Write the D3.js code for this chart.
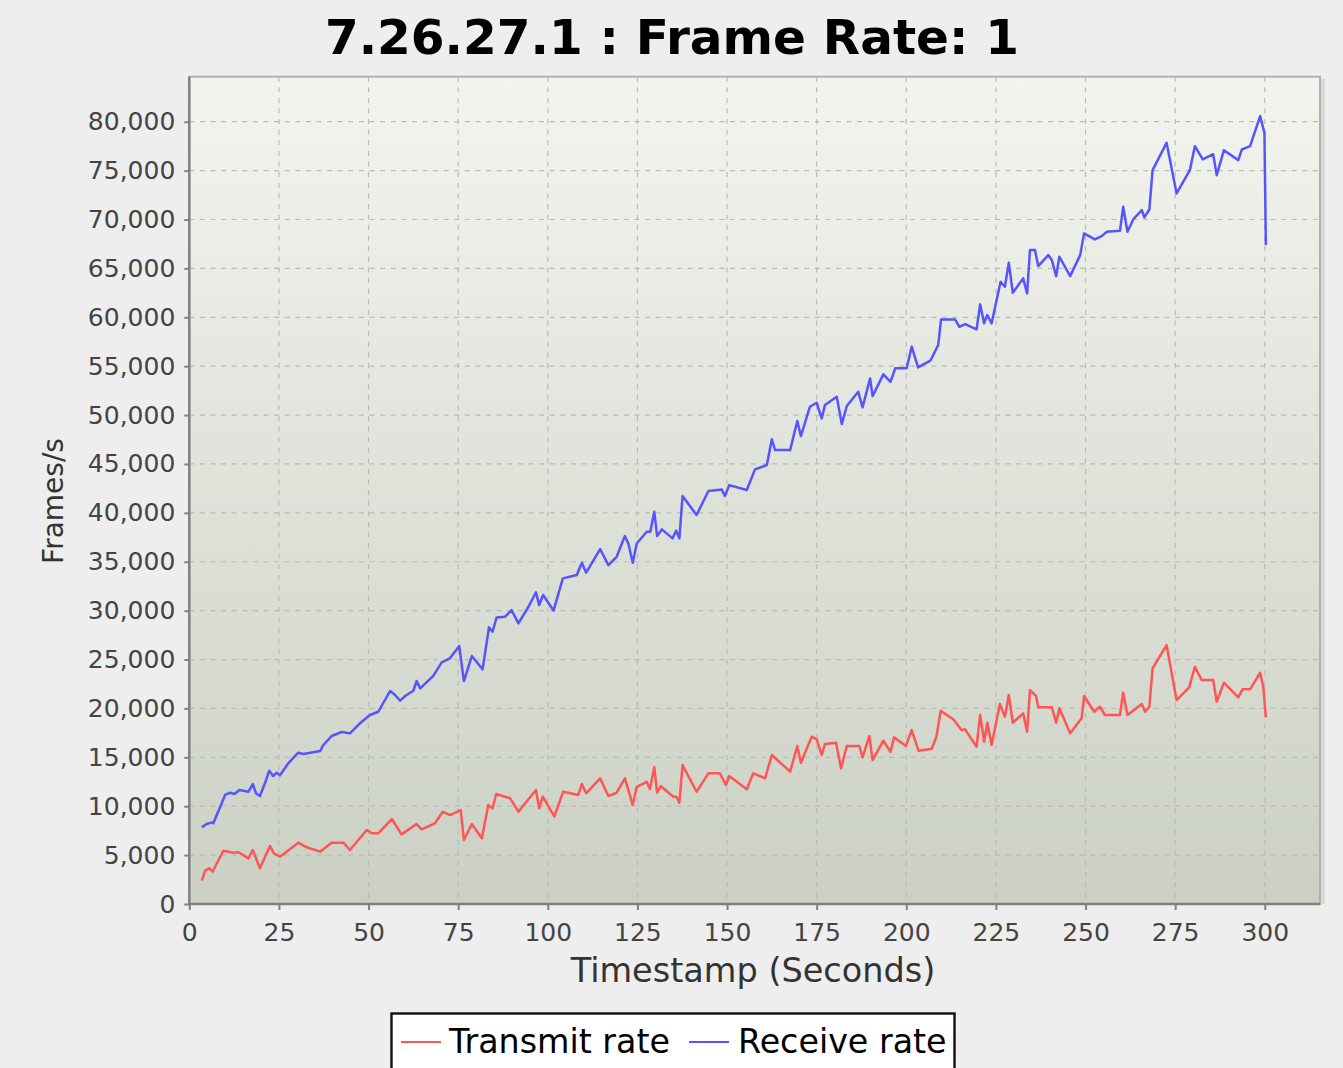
<!DOCTYPE html>
<html>
<head>
<meta charset="utf-8">
<script src="https://cdn.jsdelivr.net/npm/d3@7"></script>
<style>
  html, body { margin: 0; padding: 0; background: #eeeeee; }
  svg { display: block; }
</style>
</head>
<body>
<svg id="chart" width="1343" height="1068"></svg>
<script>
// ---- chart data ----
const chartTitle = "7.26.27.1 : Frame Rate: 1";
const xAxisTitle = "Timestamp (Seconds)";
const yAxisTitle = "Frames/s";
const xTickValues = [0, 25, 50, 75, 100, 125, 150, 175, 200, 225, 250, 275, 300];
const yTickValues = [0, 5000, 10000, 15000, 20000, 25000, 30000, 35000, 40000,
                     45000, 50000, 55000, 60000, 65000, 70000, 75000, 80000];
const seriesNames = ["Transmit rate", "Receive rate"];

const transmitSeconds = [3.5, 4.4, 5.6, 6.5, 9.5, 12.3, 13.7, 16.5, 17.7, 19.7, 22.5, 23.6, 25.3, 30.4, 32.7,
  36.5, 39.7, 43.0, 44.8, 49.5, 50.9, 52.7, 56.5, 59.2, 63.4, 64.8, 68.5, 70.7, 72.7, 75.7, 76.6, 78.8,
  81.6, 83.4, 84.6, 85.6, 89.5, 91.8, 96.7, 97.6, 98.6, 101.8, 104.3, 108.5, 109.5, 110.7, 114.6, 116.9,
  119.2, 121.5, 123.7, 124.8, 127.6, 128.5, 129.7, 130.5, 131.5, 135.0, 135.9, 136.7, 137.6, 141.5, 144.8,
  148.0, 149.7, 150.6, 155.5, 157.3, 160.6, 162.5, 167.6, 169.6, 170.6, 173.6, 175.0, 176.4, 177.3, 180.4,
  181.8, 183.4, 186.9, 187.8, 189.7, 190.6, 193.6, 195.6, 196.6, 199.9, 201.5, 203.4, 207.1, 208.4, 209.6,
  213.1, 215.4, 216.4, 219.6, 220.6, 221.7, 222.6, 223.8, 226.1, 227.5, 228.6, 229.7, 232.6, 233.7, 234.5,
  236.2, 236.8, 240.6, 241.8, 242.7, 245.7, 248.9, 249.6, 252.4, 254.0, 255.4, 259.6, 260.5, 261.7, 265.7,
  266.6, 267.8, 268.7, 272.6, 275.4, 278.9, 280.5, 282.4, 285.6, 286.6, 288.6, 292.6, 293.8, 295.9, 298.7,
  299.6, 300.3];
const transmitRate = [2390, 3410, 3650, 3300, 5450, 5250, 5290, 4670, 5520, 3650, 5930, 5180, 4840, 6270, 5800,
  5350, 6270, 6270, 5520, 7570, 7230, 7230, 8690, 7120, 8180, 7640, 8250, 9440, 9100, 9610, 6540, 8180,
  6720, 10120, 9780, 11250, 10810, 9440, 11660, 9780, 10970, 8950, 11480, 11150, 12270, 11320, 12850, 11040,
  11380, 12850, 10120, 11990, 12500, 11730, 13980, 11380, 12070, 10970, 10970, 10360, 14210, 11480, 13360,
  13360, 12170, 13090, 11730, 13360, 12850, 15240, 13530, 16160, 14450, 17110, 16840, 15240, 16360, 16490,
  13870, 16160, 16160, 15000, 17180, 14720, 16700, 15570, 17040, 16160, 17790, 15680, 15870, 17110, 19750,
  18890, 17790, 17860, 16080, 19330, 16600, 18540, 16260, 20450, 19150, 21370, 18540, 19500, 17620, 21880,
  21270, 20110, 20110, 18540, 20010, 17450, 18990, 21270, 19660, 20170, 19330, 19330, 21610, 19330, 20450,
  19660, 20170, 24100, 26480, 20860, 22160, 24260, 22900, 22900, 20690, 22630, 21130, 21950, 21950, 23650,
  22160, 19090];

const receiveSeconds = [3.5, 4.8, 6.4, 6.7, 10.0, 11.4, 12.6, 14.0, 16.5, 17.7, 18.6, 19.7, 21.1, 22.3, 23.4,
  24.4, 25.3, 27.6, 30.4, 31.8, 36.5, 37.4, 39.7, 42.5, 44.8, 47.6, 50.4, 52.7, 56.0, 57.4, 58.8, 60.2,
  62.5, 63.4, 64.4, 68.0, 70.4, 72.7, 75.3, 76.6, 78.8, 81.8, 83.6, 84.6, 85.7, 88.1, 89.9, 91.8, 94.6,
  96.7, 97.6, 98.7, 101.6, 104.2, 108.1, 109.5, 110.7, 114.6, 116.9, 119.2, 121.5, 122.5, 123.7, 124.8,
  127.6, 128.6, 129.7, 130.5, 131.8, 134.8, 135.8, 136.7, 137.6, 141.5, 144.8, 148.5, 149.4, 150.6, 155.5,
  157.8, 161.1, 162.5, 163.4, 167.6, 169.6, 170.6, 173.1, 175.0, 176.4, 177.3, 180.6, 182.0, 183.4, 186.6,
  187.8, 189.9, 190.6, 193.6, 195.6, 196.9, 200.1, 201.5, 203.3, 206.8, 208.9, 209.7, 213.6, 214.8, 216.4,
  219.6, 220.6, 221.7, 222.6, 223.8, 226.3, 227.5, 228.6, 229.7, 232.6, 233.7, 234.5, 235.9, 236.8, 239.6,
  240.6, 241.8, 242.7, 245.7, 248.5, 249.6, 252.6, 254.5, 255.9, 259.6, 260.5, 261.7, 263.3, 265.7, 266.4,
  267.8, 268.7, 272.6, 275.4, 279.1, 280.5, 282.7, 285.6, 286.6, 288.6, 292.6, 293.6, 295.9, 298.7, 299.9,
  300.3];
const receiveRate = [7840, 8180, 8350, 8250, 11150, 11380, 11250, 11660, 11480, 12270, 11320, 11040, 12340, 13630, 13090,
  13430, 13160, 14390, 15470, 15340, 15640, 16260, 17180, 17590, 17450, 18480, 19330, 19660, 21780, 21370, 20790, 21270,
  21810, 22800, 22050, 23310, 24710, 25120, 26380, 22800, 25360, 24000, 28300, 27840, 29300, 29380, 30060, 28700, 30400,
  31870, 30570, 31600, 30000, 33300, 33640, 34900, 33880, 36300, 34660, 35510, 37630, 36810, 34900, 36870,
  38070, 38070, 40110, 37630, 38310, 37390, 38170, 37390, 41720, 39780, 42230, 42400, 41720, 42840, 42330,
  44450, 44890, 47520, 46420, 46420, 49390, 47850, 50850, 51260, 49660, 51020, 51870, 49080, 50920, 52380,
  50790, 53750, 51940, 54160, 53400, 54780, 54780, 56990, 54870, 55600, 57160, 59780, 59780, 59030, 59310,
  58760, 61320, 59380, 60230, 59380, 63630, 63120, 65580, 62510, 63980, 62440, 66870, 66870, 65240, 66360,
  65850, 64210, 66190, 64210, 66360, 68580, 67960, 68300, 68740, 68840, 71300, 68740, 70010, 70960, 70210,
  71020, 75050, 77840, 72670, 75050, 77500, 76140, 76680, 74530, 77090, 76070, 77160, 77500, 80570, 78860,
  67380];

// ---- layout ----
const W = 1343, H = 1068;
const plot = { left: 189.3, right: 1320, top: 76.7, bottom: 904 };
const colors = { transmit: "#ff5555", receive: "#5555ff" };
const FONT = "'DejaVu Sans', sans-serif";

const svg = d3.select("#chart");

svg.append("rect").attr("width", W).attr("height", H).attr("fill", "#eeeeee");

const defs = svg.append("defs");
const grad = defs.append("linearGradient")
  .attr("id", "plotBg").attr("x1", 0).attr("y1", 0).attr("x2", 0).attr("y2", 1);
grad.append("stop").attr("offset", "0%").attr("stop-color", "#f3f4ef");
grad.append("stop").attr("offset", "100%").attr("stop-color", "#cbd0c4");

// scales
const x = d3.scaleLinear().domain([0, 315.4]).range([plot.left, plot.right]);
const y = d3.scaleLinear().domain([0, 84604]).range([plot.bottom, plot.top]);

// plot background with a soft shadow on the right edge
svg.append("rect")
  .attr("x", plot.right).attr("y", plot.top + 2)
  .attr("width", 5).attr("height", plot.bottom - plot.top - 2)
  .attr("fill", "#d8d8d8");
svg.append("rect")
  .attr("x", plot.left).attr("y", plot.top)
  .attr("width", plot.right - plot.left).attr("height", plot.bottom - plot.top)
  .attr("fill", "url(#plotBg)")
  .attr("stroke", "#b0b0b0").attr("stroke-width", 2);

// grid lines
const grid = svg.append("g").attr("class", "grid");
grid.selectAll("line.v").data(xTickValues.filter(d => d > 0)).join("line")
  .attr("class", "v")
  .attr("x1", d => x(d)).attr("x2", d => x(d))
  .attr("y1", plot.top).attr("y2", plot.bottom)
  .attr("stroke", "#b9bcb5").attr("stroke-width", 1.2)
  .attr("stroke-dasharray", "5,5.6");
grid.selectAll("line.h").data(yTickValues.filter(d => d > 0)).join("line")
  .attr("class", "h")
  .attr("x1", plot.left).attr("x2", plot.right)
  .attr("y1", d => y(d)).attr("y2", d => y(d))
  .attr("stroke", "#b9bcb5").attr("stroke-width", 1.2)
  .attr("stroke-dasharray", "5,5.6");

// series lines
const line = d3.line().x(d => x(d[0])).y(d => y(d[1]));
const transmitPoints = transmitSeconds.map((t, i) => [t, transmitRate[i]]);
const receivePoints = receiveSeconds.map((t, i) => [t, receiveRate[i]]);

svg.append("path").datum(transmitPoints)
  .attr("d", line).attr("fill", "none")
  .attr("stroke", colors.transmit).attr("stroke-width", 2.5)
  .attr("stroke-linejoin", "round");
svg.append("path").datum(receivePoints)
  .attr("d", line).attr("fill", "none")
  .attr("stroke", colors.receive).attr("stroke-width", 2.5)
  .attr("stroke-linejoin", "round");

// axes
const yAxis = d3.axisLeft(y).tickValues(yTickValues)
  .tickFormat(d3.format(",")).tickSize(5).tickSizeOuter(0).tickPadding(9);
const gy = svg.append("g").attr("transform", `translate(${plot.left},0)`).call(yAxis);

const xAxis = d3.axisBottom(x).tickValues(xTickValues)
  .tickFormat(d3.format("d")).tickSize(6).tickSizeOuter(0).tickPadding(13);
const gx = svg.append("g").attr("transform", `translate(0,${plot.bottom})`).call(xAxis);

[gx, gy].forEach(g => {
  g.select(".domain").attr("stroke", "#808080").attr("stroke-width", 2.4);
  g.selectAll(".tick line").attr("stroke", "#808080").attr("stroke-width", 2);
  g.selectAll(".tick text")
    .attr("fill", "#444444")
    .style("font-family", FONT).style("font-size", "25px");
});
// the x axis line runs across the full plot width
gx.select(".domain").attr("d", `M${plot.left},0H${plot.right}`);
gy.select(".domain").attr("d", `M0,${plot.top}V${plot.bottom}`);

// titles
svg.append("text")
  .attr("x", 672).attr("y", 54)
  .attr("text-anchor", "middle")
  .style("font-family", FONT).style("font-size", "48.5px").style("font-weight", "bold")
  .attr("fill", "#000")
  .text(chartTitle);

svg.append("text")
  .attr("x", 753).attr("y", 982)
  .attr("text-anchor", "middle")
  .style("font-family", FONT).style("font-size", "33.5px")
  .attr("fill", "#333333")
  .text(xAxisTitle);

svg.append("text")
  .attr("transform", "translate(63,501) rotate(-90)")
  .attr("text-anchor", "middle")
  .style("font-family", FONT).style("font-size", "28px")
  .attr("fill", "#333333")
  .text(yAxisTitle);

// legend
const legend = svg.append("g");
legend.append("rect")
  .attr("x", 391.5).attr("y", 1013.5).attr("width", 563).attr("height", 80)
  .attr("fill", "#ffffff").attr("stroke", "#111111").attr("stroke-width", 2.4);
const legendItems = [
  { name: seriesNames[0], color: colors.transmit, x0: 401, tx: 449 },
  { name: seriesNames[1], color: colors.receive, x0: 689, tx: 738 }
];
legendItems.forEach(it => {
  legend.append("line")
    .attr("x1", it.x0).attr("x2", it.x0 + 40)
    .attr("y1", 1042).attr("y2", 1042)
    .attr("stroke", it.color).attr("stroke-width", 2.2);
  legend.append("text")
    .attr("x", it.tx).attr("y", 1053)
    .style("font-family", FONT).style("font-size", "33.3px")
    .attr("fill", "#000")
    .text(it.name);
});
</script>
</body>
</html>
